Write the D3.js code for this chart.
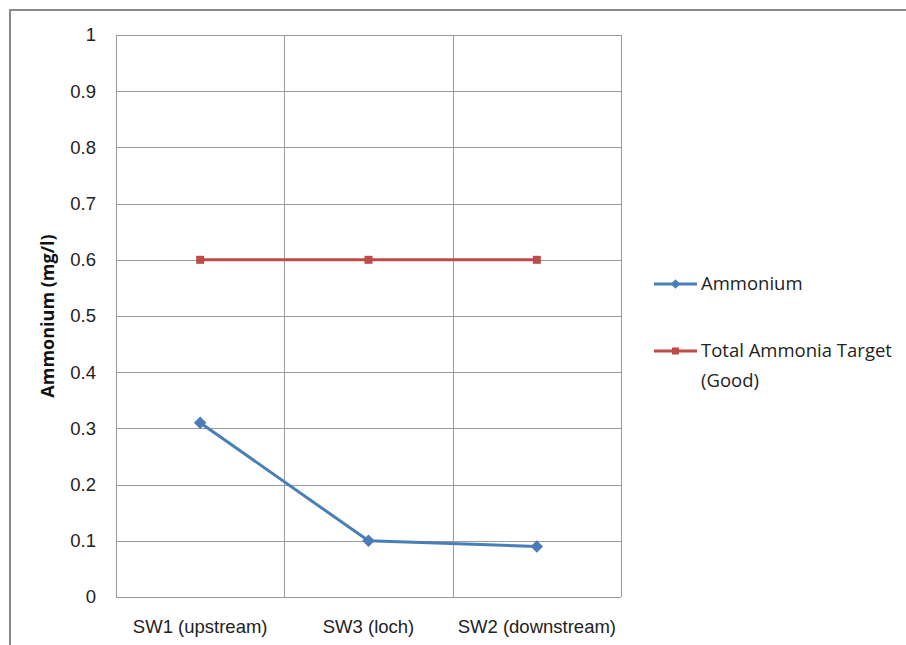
<!DOCTYPE html>
<html><head><meta charset="utf-8">
<script src="https://cdn.jsdelivr.net/npm/d3@7"></script>
<style>body{margin:0;background:#fff;}svg{display:block;font-family:"Open Sans",Carlito,"Liberation Sans",sans-serif;}</style>
</head><body>
<script>
const categories = ["SW1 (upstream)", "SW3 (loch)", "SW2 (downstream)"];
const ammonium = [0.31, 0.10, 0.09];
const target = [0.6, 0.6, 0.6];
const yTicks = [0, 0.1, 0.2, 0.3, 0.4, 0.5, 0.6, 0.7, 0.8, 0.9, 1];
const seriesNames = ["Ammonium", "Total Ammonia Target (Good)"];
const colors = ["#4A7EBB", "#BE4B48"];

const W = 906, H = 645, FS = 18.5;
const svg = d3.select("body").append("svg").attr("width", W).attr("height", H);
svg.append("rect").attr("x",10).attr("y",10).attr("width",W).attr("height",H)
  .attr("fill","#fff").attr("stroke","#888").attr("stroke-width",2);

const L=116, R=621, T=35, B=597;
const x = d3.scaleBand().domain(categories).range([L,R]).padding(0);
const y = d3.scaleLinear().domain([0,1]).range([B,T]);

const g = svg.append("g");
g.selectAll(".hg").data(yTicks).enter().append("line")
  .attr("x1",L).attr("x2",R).attr("y1",d=>Math.round(y(d))+0.5).attr("y2",d=>Math.round(y(d))+0.5)
  .attr("stroke","#9a9a9a").attr("stroke-width",1);
const bounds = categories.map(c=>x(c)).concat([R]);
g.selectAll(".vg").data(bounds).enter().append("line")
  .attr("y1",T).attr("y2",B).attr("x1",d=>Math.round(d)+0.5).attr("x2",d=>Math.round(d)+0.5)
  .attr("stroke","#9a9a9a").attr("stroke-width",1);

const yAxis = d3.axisLeft(y).tickValues(yTicks).tickSize(0).tickPadding(0).tickFormat(d3.format("~g"));
const ya = svg.append("g").attr("transform",`translate(96,0)`).call(yAxis);
ya.select(".domain").remove();
ya.selectAll("text").attr("font-size",FS).attr("fill","#222").attr("font-family","inherit").attr("x",0);

const xAxis = d3.axisBottom(x).tickSize(0).tickPadding(0);
const xa = svg.append("g").attr("transform",`translate(0,627)`).call(xAxis);
xa.select(".domain").remove();
xa.selectAll("text").attr("font-size",FS).attr("fill","#222").attr("font-family","inherit").attr("y",0).attr("dy","0.35em");

svg.append("text").attr("transform",`translate(48,${316}) rotate(-90)`)
  .attr("text-anchor","middle").attr("dy","0.35em").attr("font-size",18).attr("font-weight","bold").attr("fill","#111")
  .text("Ammonium (mg/l)");

const cx = c => x(c) + x.bandwidth()/2;
const line = d3.line().x((d,i)=>cx(categories[i])).y(d=>y(d));
const series = [ammonium, target];
series.forEach((s,si)=>{
  svg.append("path").datum(s).attr("d",line).attr("fill","none")
    .attr("stroke",colors[si]).attr("stroke-width",3).attr("stroke-linejoin","round");
  const mk = svg.append("g");
  s.forEach((v,i)=>{
    const px = cx(categories[i]), py = y(v);
    if(si===0){
      mk.append("path").attr("d",d3.symbol(d3.symbolDiamond2,100)()).attr("transform",`translate(${px},${py})`).attr("fill",colors[si]);
    } else {
      mk.append("rect").attr("x",px-4).attr("y",py-4).attr("width",8).attr("height",8).attr("fill",colors[si]);
    }
  });
});

const lg = svg.append("g");
const legY = [284, 351];
seriesNames.forEach((n,i)=>{
  lg.append("line").attr("x1",654).attr("x2",697).attr("y1",legY[i]).attr("y2",legY[i])
    .attr("stroke",colors[i]).attr("stroke-width",3);
  if(i===0) lg.append("path").attr("d",d3.symbol(d3.symbolDiamond2,60)()).attr("transform",`translate(675.5,${legY[i]})`).attr("fill",colors[i]);
  else lg.append("rect").attr("x",672).attr("y",legY[i]-3.5).attr("width",7).attr("height",7).attr("fill",colors[i]);
});
lg.append("text").attr("x",701).attr("y",legY[0]).attr("dy","0.35em").attr("font-size",FS).attr("fill","#222").text("Ammonium");
lg.append("text").attr("x",701).attr("y",legY[1]).attr("dy","0.35em").attr("font-size",FS).attr("fill","#222").text("Total Ammonia Target");
lg.append("text").attr("x",701).attr("y",legY[1]+30).attr("dy","0.35em").attr("font-size",FS).attr("fill","#222").text("(Good)");
</script>
</body></html>
